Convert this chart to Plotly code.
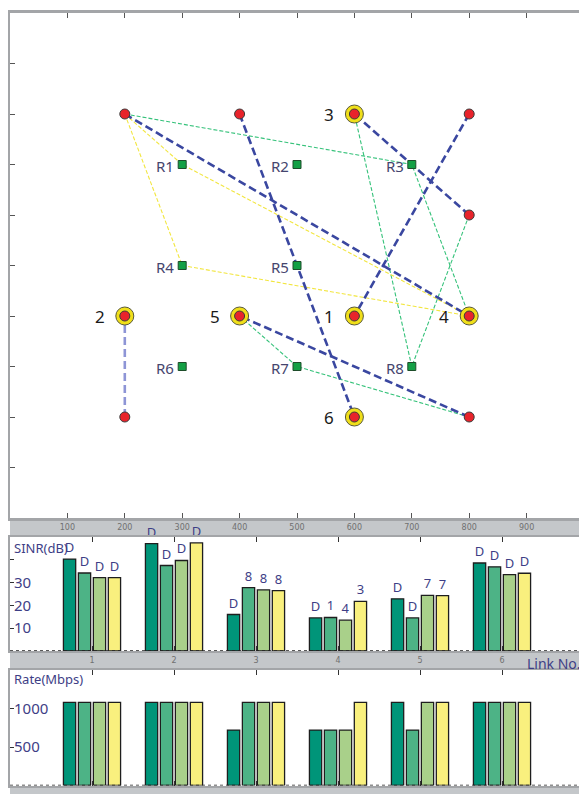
import plotly.graph_objects as go

# ---------------- data ----------------
link_ids = [1, 2, 3, 4, 5, 6]
# labelled end (with halo) of each link
node_x = [600, 200, 600, 800, 400, 600]
node_y = [400, 400, 800, 400, 400, 200]
# other end of each link
peer_x = [800, 200, 800, 200, 800, 400]
peer_y = [800, 200, 600, 800, 200, 800]

relay_names = ["R1", "R2", "R3", "R4", "R5", "R6", "R7", "R8"]
relay_x = [300, 500, 700, 300, 500, 300, 500, 700]
relay_y = [700, 700, 700, 500, 500, 300, 300, 300]

# relay paths: peer -> relay -> node
path_link = [4, 4, 4, 3, 5]
path_relay = ["R3", "R1", "R4", "R8", "R7"]
path_kind = ["green", "yellow", "yellow", "green", "green"]

link_categories = [1, 2, 3, 4, 5, 6]
series_names = ["s1", "s2", "s3", "s4"]
sinr_values = [
    [40.3, 47.1, 16.0, 14.5, 22.9, 38.6],
    [34.2, 37.5, 27.8, 14.7, 14.5, 36.9],
    [32.2, 39.7, 26.8, 13.5, 24.4, 33.5],
    [32.2, 47.4, 26.5, 21.8, 24.3, 34.1],
]
sinr_text = [
    ["D", "D", "D", "D", "D", "D"],
    ["D", "D", "8", "1", "D", "D"],
    ["D", "D", "8", "4", "7", "D"],
    ["D", "D", "8", "3", "7", "D"],
]
rate_values = [
    [1080, 1080, 720, 720, 1080, 1080],
    [1080, 1080, 1080, 720, 720, 1080],
    [1080, 1080, 1080, 720, 1080, 1080],
    [1080, 1080, 1080, 1080, 1080, 1080],
]
top_ticks = [0, 100, 200, 300, 400, 500, 600, 700, 800, 900, 1000]
sinr_ticks = [10, 20, 30, 40]
sinr_ticktext = ["10", "20", "30", ""]
rate_ticks = [500, 1000]
rate_ticktext = ["500", "1000"]

# ---------------- style ----------------
OFF = 8  # page body margin
W, H = 587 - OFF, 794 - OFF
bar_colors = ["#009579", "#4db386", "#a9d08a", "#f9f07e"]
navy = "#3e3e86"
frame = "#a3a5a8"
band = "#c4c7ca"
FONT = "Noto Sans"


def py(p):
    return 1 - (p - OFF) / H


def px(p):
    return (p - OFF) / W


xdom = [px(10), px(584)]

fig = go.Figure()

# ---- relay paths ----
for kind, color in [("green", "#35c27a"), ("yellow", "#f2e640")]:
    xs, ys = [], []
    for lk, rl, kd in zip(path_link, path_relay, path_kind):
        if kd != kind:
            continue
        i = link_ids.index(lk)
        j = relay_names.index(rl)
        xs += [peer_x[i], relay_x[j], node_x[i], None]
        ys += [peer_y[i], relay_y[j], node_y[i], None]
    fig.add_trace(go.Scatter(x=xs, y=ys, mode="lines",
                             line=dict(color=color, width=1.1, dash="4px,2px"),
                             xaxis="x", yaxis="y", hoverinfo="skip"))

# ---- direct links ----
for light in [False, True]:
    xs, ys = [], []
    for i, lk in enumerate(link_ids):
        if (lk == 2) != light:
            continue
        xs += [peer_x[i], node_x[i], None]
        ys += [peer_y[i], node_y[i], None]
    fig.add_trace(go.Scatter(x=xs, y=ys, mode="lines",
                             line=dict(color="#8e95d6" if light else "#3a47a0",
                                       width=2.6, dash="8px,4px"),
                             xaxis="x", yaxis="y", hoverinfo="skip"))

# halos
fig.add_trace(go.Scatter(x=node_x, y=node_y, mode="markers",
                         marker=dict(size=18, color="#f0df1a",
                                     line=dict(color="#5a5a38", width=1)),
                         xaxis="x", yaxis="y", hoverinfo="skip"))
# red nodes
fig.add_trace(go.Scatter(x=node_x + peer_x, y=node_y + peer_y, mode="markers",
                         marker=dict(size=10, color="#e8232b",
                                     line=dict(color="#3a3a3a", width=1)),
                         xaxis="x", yaxis="y", hoverinfo="skip"))
# relays
fig.add_trace(go.Scatter(x=relay_x, y=relay_y, mode="markers",
                         marker=dict(size=8, symbol="square", color="#13a045",
                                     line=dict(color="#1d4d2a", width=1)),
                         xaxis="x", yaxis="y", hoverinfo="skip"))

annotations = []
for lk, x, y in zip(link_ids, node_x, node_y):
    annotations.append(dict(x=x, y=y, xref="x", yref="y", text=str(lk),
                            showarrow=False, xshift=-25,
                            font=dict(family=FONT, size=17, color="#1a1a1a")))
for nm, x, y in zip(relay_names, relay_x, relay_y):
    annotations.append(dict(x=x, y=y, xref="x", yref="y", text=nm,
                            showarrow=False, xshift=-17, yshift=-1,
                            font=dict(family=FONT, size=15, color="#45456e")))

# ---- bars ----
for k in range(4):
    fig.add_trace(go.Bar(x=link_categories, y=sinr_values[k], name=series_names[k],
                         text=sinr_text[k], textposition="outside",
                         constraintext="none", cliponaxis=False,
                         textfont=dict(family=FONT, size=13, color=navy),
                         marker=dict(color=bar_colors[k],
                                     line=dict(color="#1e1e1e", width=1.3)),
                         xaxis="x2", yaxis="y2", offsetgroup=str(k)))
for k in range(4):
    fig.add_trace(go.Bar(x=link_categories, y=rate_values[k], name=series_names[k],
                         marker=dict(color=bar_colors[k],
                                     line=dict(color="#1e1e1e", width=1.3)),
                         xaxis="x3", yaxis="y3", offsetgroup=str(k)))

annotations += [
    dict(x=px(12), y=py(548), xref="paper", yref="paper", text="SINR(dB)",
         showarrow=False, xanchor="left", yanchor="middle",
         font=dict(family=FONT, size=13, color=navy)),
    dict(x=px(12), y=py(679), xref="paper", yref="paper", text="Rate(Mbps)",
         showarrow=False, xanchor="left", yanchor="middle",
         font=dict(family=FONT, size=13, color=navy)),
    dict(x=px(583), y=py(663), xref="paper", yref="paper", text="Link No.",
         showarrow=False, xanchor="right", yanchor="middle",
         font=dict(family=FONT, size=14, color=navy)),
]

shapes = []
for y0, y1 in [(518, 535), (651, 670), (786, 794)]:
    shapes.append(dict(type="rect", xref="paper", yref="paper",
                       x0=xdom[0], x1=px(585), y0=py(y1), y1=py(y0),
                       fillcolor=band, line=dict(width=0), layer="below"))
for ya in ["y2", "y3"]:
    shapes.append(dict(type="line", xref="x2 domain" if ya == "y2" else "x3 domain",
                       yref=ya, x0=0, x1=1, y0=0, y1=0,
                       line=dict(color="#222222", width=1.5, dash="3px,3px"),
                       layer="above"))

tickfont_small = dict(family="DejaVu Sans", size=8, color="#707070")

fig.update_layout(
    width=W, height=H, autosize=False,
    margin=dict(l=0, r=0, t=0, b=0),
    paper_bgcolor="white", plot_bgcolor="white",
    showlegend=False,
    barmode="group", bargap=0.27, bargroupgap=0.18,
    annotations=annotations, shapes=shapes,
    xaxis=dict(domain=xdom, range=[0, 1000], anchor="y",
               tickvals=top_ticks, ticks="inside", ticklen=5, tickcolor="#555",
               showline=True, linecolor=frame, linewidth=2.5, mirror="ticks",
               showgrid=False, zeroline=False, tickfont=tickfont_small),
    yaxis=dict(domain=[py(518), py(13)], range=[0, 1000], anchor="x",
               tickvals=top_ticks, ticks="inside", ticklen=5, tickcolor="#555",
               showticklabels=False,
               showline=True, linecolor=frame, linewidth=2.5, mirror="ticks",
               showgrid=False, zeroline=False),
    xaxis2=dict(domain=xdom, range=[0, 7], anchor="y2",
                tickvals=link_categories, ticks="inside", ticklen=5, tickcolor="#333",
                showline=True, linecolor=frame, linewidth=2, mirror="ticks",
                showgrid=False, zeroline=False, tickfont=tickfont_small),
    yaxis2=dict(domain=[py(651), py(537)], range=[0, 50], anchor="x2",
                tickvals=sinr_ticks, ticktext=sinr_ticktext,
                ticks="inside", ticklen=4, tickcolor="#333",
                ticklabelposition="inside",
                tickfont=dict(family=FONT, size=15, color=navy),
                showline=True, linecolor=frame, linewidth=2, mirror=True,
                showgrid=False, zeroline=False),
    xaxis3=dict(domain=xdom, range=[0, 7], anchor="y3",
                tickvals=link_categories, ticks="inside", ticklen=5, tickcolor="#333",
                showticklabels=False,
                showline=True, linecolor=frame, linewidth=2, mirror="ticks",
                showgrid=False, zeroline=False),
    yaxis3=dict(domain=[py(785.5), py(670)], range=[0, 1500], anchor="x3",
                tickvals=rate_ticks, ticktext=rate_ticktext,
                ticks="inside", ticklen=4, tickcolor="#333",
                ticklabelposition="inside",
                tickfont=dict(family=FONT, size=15, color=navy),
                showline=True, linecolor=frame, linewidth=2, mirror=True,
                showgrid=False, zeroline=False),
)

fig.write_html("out.html")
